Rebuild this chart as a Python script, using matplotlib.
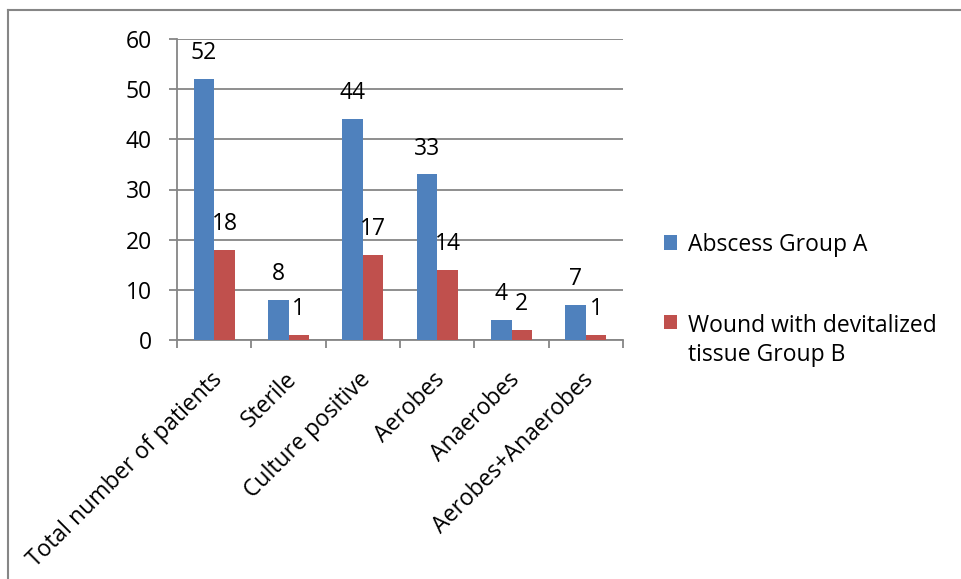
import matplotlib
matplotlib.use("Agg")
import matplotlib.pyplot as plt
import matplotlib.transforms as mtransforms
import numpy as np
from matplotlib.lines import Line2D

categories = ["Total number of patients", "Sterile", "Culture positive", "Aerobes", "Anaerobes", "Aerobes+Anaerobes"]
group_a = [52, 8, 44, 33, 4, 7]
group_b = [18, 1, 17, 14, 2, 1]
series_names = ["Abscess Group A", "Wound with devitalized\ntissue Group B"]
yticks = [0, 10, 20, 30, 40, 50, 60]

plt.rcParams['font.family'] = ['Open Sans', 'DejaVu Sans']
FS = 16.5
W, H = 962, 579
fig = plt.figure(figsize=(W/100, H/100), dpi=100)
gray = "#868686"
fig.add_artist(Line2D([8/W, 1], [1 - 10/H, 1 - 10/H], transform=fig.transFigure, color=gray, linewidth=1.5))
fig.add_artist(Line2D([8/W, 8/W], [0, 1 - 10/H], transform=fig.transFigure, color=gray, linewidth=1.5))

ax = fig.add_axes([177/W, 1 - 340/H, (623-177)/W, (340-39)/H])
x = np.arange(len(categories))
bw = 0.276
blue = "#4F81BD"
red = "#C0504D"
b1 = ax.bar(x - bw/2, group_a, bw, color=blue, label=series_names[0], zorder=3)
b2 = ax.bar(x + bw/2, group_b, bw, color=red, label=series_names[1], zorder=3)
for bars, vals in ((b1, group_a), (b2, group_b)):
    for r, v in zip(bars, vals):
        ax.annotate(str(v), (r.get_x() + r.get_width()/2, v), xytext=(0, 10),
                    textcoords="offset points", ha="center", va="bottom", fontsize=FS)

ax.set_xlim(-0.5, len(categories) - 0.5)
ax.set_ylim(0, 60)
ax.set_yticks(yticks)
ax.set_yticklabels([str(t) for t in yticks], fontsize=FS)
ax.yaxis.grid(True, color=gray, linewidth=1.3, zorder=0)
ax.set_xticks(np.arange(len(categories) + 1) - 0.5, minor=False)
ax.set_xticklabels([""] * (len(categories) + 1))
ax.set_xticks(x, minor=True)
ax.set_xticklabels(categories, minor=True, rotation=45, ha="right", rotation_mode="anchor", fontsize=FS)
ax.tick_params(axis="x", which="minor", length=0, pad=10)
ax.tick_params(axis="x", which="major", length=6, color=gray, width=1.3)
ax.tick_params(axis="y", length=6, color=gray, width=1.3, pad=12)
offset = mtransforms.ScaledTranslation(-4/100, -14/100, fig.dpi_scale_trans)
for lbl in ax.get_xticklabels(minor=True):
    lbl.set_transform(lbl.get_transform() + offset)
for s in ["top", "right"]:
    ax.spines[s].set_visible(False)
for s in ["left", "bottom"]:
    ax.spines[s].set_color(gray)
    ax.spines[s].set_linewidth(1.3)

leg = fig.legend(handles=[b1, b2], labels=series_names, loc="upper left",
                 bbox_to_anchor=(643/W, 1 - 212/H), frameon=False, fontsize=FS,
                 handlelength=0.6, handleheight=0.6, handletextpad=0.45,
                 labelspacing=2.5)
leg.texts[1].set_linespacing(1.3)
h = leg.legend_handles[1]
h.set_y(h.get_y() + 14)

fig.savefig("out.png", dpi=100)
